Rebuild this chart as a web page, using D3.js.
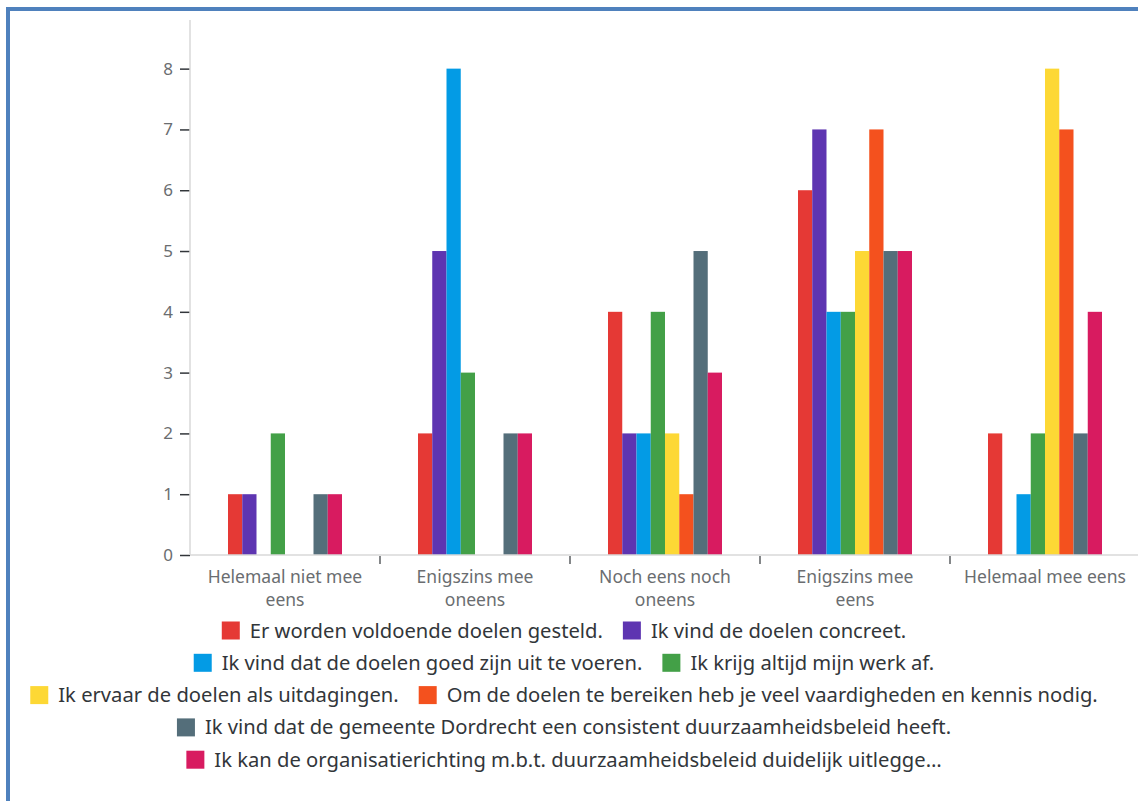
<!DOCTYPE html>
<html>
<head>
<meta charset="utf-8">
<script src="https://cdn.jsdelivr.net/npm/d3@7"></script>
<style>
  html, body { margin: 0; padding: 0; background: #fff; }
  svg { display: block; }
</style>
</head>
<body>
<svg id="chart" width="1138" height="801"></svg>
<script>
// Answer categories (x axis)
const categories = [
  "Helemaal niet mee eens",
  "Enigszins mee oneens",
  "Noch eens noch oneens",
  "Enigszins mee eens",
  "Helemaal mee eens"
];

// How each category label breaks over lines under the axis
const categoryLabelLines = [
  ["Helemaal niet mee", "eens"],
  ["Enigszins mee", "oneens"],
  ["Noch eens noch", "oneens"],
  ["Enigszins mee", "eens"],
  ["Helemaal mee eens"]
];

// Statements (series)
const seriesNames = [
  "Er worden voldoende doelen gesteld.",
  "Ik vind de doelen concreet.",
  "Ik vind dat de doelen goed zijn uit te voeren.",
  "Ik krijg altijd mijn werk af.",
  "Ik ervaar de doelen als uitdagingen.",
  "Om de doelen te bereiken heb je veel vaardigheden en kennis nodig.",
  "Ik vind dat de gemeente Dordrecht een consistent duurzaamheidsbeleid heeft.",
  "Ik kan de organisatierichting m.b.t. duurzaamheidsbeleid duidelijk uitlegge\u2026"
];

const seriesColors = ["#e53935", "#5e35b1", "#039be5", "#43a047", "#fdd835", "#f4511e", "#546e7a", "#d81b60"];

// Counts per statement, one value per category
const doelenGesteld      = [1, 2, 4, 6, 2];
const doelenConcreet     = [1, 5, 2, 7, 0];
const uitTeVoeren        = [0, 8, 2, 4, 1];
const werkAf             = [2, 3, 4, 4, 2];
const uitdagingen        = [0, 0, 2, 5, 8];
const vaardigheden       = [0, 0, 1, 7, 7];
const consistentBeleid   = [1, 2, 5, 5, 2];
const organisatieUitleg  = [1, 2, 3, 5, 4];

const seriesValues = [doelenGesteld, doelenConcreet, uitTeVoeren, werkAf,
                      uitdagingen, vaardigheden, consistentBeleid, organisatieUitleg];

const yTicks = [0, 1, 2, 3, 4, 5, 6, 7, 8];

// Legend rows (indices into seriesNames)
const legendRows = [[0, 1], [2, 3], [4, 5], [6], [7]];

const FONT = "'Noto Sans', 'Open Sans', sans-serif";

const svg = d3.select("#chart");
const W = 1138, H = 801;

const plot = { left: 190, right: 1140, top: 20, bottom: 555 };

const x0 = d3.scaleBand()
  .domain(categories)
  .range([plot.left, plot.right])
  .paddingInner(0.4)
  .paddingOuter(0.2);

const x1 = d3.scaleBand()
  .domain(d3.range(seriesNames.length))
  .range([0, x0.bandwidth()]);

const y = d3.scaleLinear()
  .domain([0, 8.8])
  .range([plot.bottom, plot.top]);

// Outer frame
svg.append("rect")
  .attr("x", 8).attr("y", 9)
  .attr("width", 1300).attr("height", 1000)
  .attr("fill", "none")
  .attr("stroke", "#4f81bd")
  .attr("stroke-width", 4);

// Bars
const groups = svg.append("g").selectAll("g")
  .data(categories)
  .join("g")
  .attr("transform", d => `translate(${x0(d)},0)`);

groups.selectAll("rect")
  .data((c, ci) => seriesValues.map((vals, si) => ({ si, v: vals[ci] })))
  .join("rect")
  .filter(d => d.v > 0)
  .attr("x", d => x1(d.si))
  .attr("y", d => y(d.v))
  .attr("width", x1.bandwidth())
  .attr("height", d => y(0) - y(d.v))
  .attr("fill", d => seriesColors[d.si]);

// Y axis
const yAxis = svg.append("g")
  .attr("transform", `translate(${plot.left},0)`)
  .call(d3.axisLeft(y).tickValues(yTicks).tickFormat(d3.format("d")).tickSize(10).tickPadding(7));
yAxis.select(".domain").remove();
yAxis.append("line")
  .attr("x1", 0).attr("x2", 0)
  .attr("y1", plot.top).attr("y2", plot.bottom)
  .attr("stroke", "#d9d9d9").attr("stroke-width", 1.5);
yAxis.selectAll(".tick line").attr("stroke", "#32363a").attr("stroke-width", 1.5);
yAxis.selectAll(".tick text")
  .attr("fill", "#6a6d70")
  .attr("font-family", FONT)
  .attr("font-size", 17);

// X axis baseline
svg.append("line")
  .attr("x1", plot.left).attr("x2", W)
  .attr("y1", plot.bottom).attr("y2", plot.bottom)
  .attr("stroke", "#d9d9d9").attr("stroke-width", 1.5);

// Separators between categories
const step = x0.step();
const seps = categories.slice(1).map((c) => x0(c) - (step - x0.bandwidth()) / 2);
svg.append("g").selectAll("line")
  .data(seps)
  .join("line")
  .attr("x1", d => d).attr("x2", d => d)
  .attr("y1", plot.bottom + 1).attr("y2", plot.bottom + 9)
  .attr("stroke", "#32363a").attr("stroke-width", 1.2);

// Category labels, one text per line
const labelFont = 17.5;
const labelLineGap = 23;
svg.append("g")
  .selectAll("g")
  .data(categories)
  .join("g")
  .each(function (d, i) {
    const cx = x0(d) + x0.bandwidth() / 2;
    d3.select(this).selectAll("text")
      .data(categoryLabelLines[i])
      .join("text")
      .attr("x", cx)
      .attr("y", (t, li) => plot.bottom + 28 + li * labelLineGap)
      .attr("text-anchor", "middle")
      .attr("fill", "#6a6d70")
      .attr("font-family", FONT)
      .attr("font-size", labelFont)
      .text(t => t);
  });

// Legend
const legend = svg.append("g");
const legendCenter = 564;
const rowY0 = 630.5, rowGap = 32.3;
const sw = 18, swGap = 10, itemGap = 20;

legendRows.forEach((row, ri) => {
  const g = legend.append("g");
  let cx = 0;
  row.forEach((si) => {
    const item = g.append("g").attr("transform", `translate(${cx},0)`);
    item.append("rect")
      .attr("x", 0).attr("y", -sw / 2)
      .attr("width", sw).attr("height", sw)
      .attr("fill", seriesColors[si]);
    const txt = item.append("text")
      .attr("x", sw + swGap).attr("y", 0)
      .attr("dy", "0.35em")
      .attr("fill", "#32363a")
      .attr("font-family", FONT)
      .attr("font-size", 20.2)
      .text(seriesNames[si]);
    cx += sw + swGap + txt.node().getComputedTextLength() + itemGap;
  });
  const total = cx - itemGap;
  g.attr("transform", `translate(${legendCenter - total / 2},${rowY0 + ri * rowGap})`);
});
</script>
</body>
</html>
